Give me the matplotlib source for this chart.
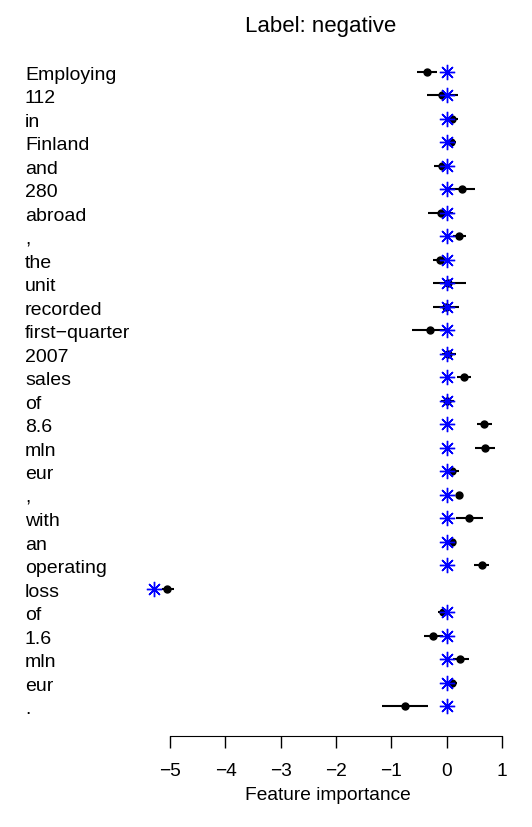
import matplotlib
matplotlib.use("Agg")
import matplotlib.pyplot as plt
import matplotlib.transforms as mtransforms
import numpy as np

plt.rcParams['font.family'] = ['Liberation Sans', 'DejaVu Sans']

tokens = ["Employing", "112", "in", "Finland", "and", "280", "abroad", ",",
          "the", "unit", "recorded", "first\u2212quarter", "2007", "sales", "of",
          "8.6", "mln", "eur", ",", "with", "an", "operating", "loss", "of",
          "1.6", "mln", "eur", "."]

# black points with interval, blue stars
point = [-0.36, -0.08, 0.09, 0.07, -0.08, 0.27, -0.11, 0.22, -0.12, 0.03,
         -0.02, -0.31, 0.02, 0.31, 0.01, 0.68, 0.70, 0.10, 0.23, 0.40,
         0.10, 0.63, -5.05, -0.07, -0.25, 0.24, 0.10, -0.75]
lower = [-0.54, -0.36, 0.00, -0.03, -0.23, 0.03, -0.34, 0.12, -0.24, -0.25,
         -0.25, -0.63, -0.09, 0.18, -0.10, 0.55, 0.52, -0.01, 0.21, 0.16,
         0.01, 0.50, -5.15, -0.16, -0.41, 0.12, 0.01, -1.17]
upper = [-0.18, 0.21, 0.21, 0.16, 0.06, 0.51, 0.12, 0.34, 0.03, 0.34,
         0.22, 0.00, 0.16, 0.44, 0.13, 0.82, 0.87, 0.22, 0.25, 0.65,
         0.17, 0.76, -4.94, 0.05, -0.07, 0.40, 0.19, -0.33]
star = [0.0] * 22 + [-5.29] + [0.0] * 5

W, H = 532, 827
fig = plt.figure(figsize=(W / 100, H / 100), dpi=100)
ax_left, ax_right = 140, 515
ax_top, ax_bottom = 56, 722
ax = fig.add_axes([ax_left / W, 1 - ax_bottom / H,
                   (ax_right - ax_left) / W, (ax_bottom - ax_top) / H])

px0, ppu = 446.7, 55.3
ax.set_xlim((ax_left - px0) / ppu, (ax_right - px0) / ppu)
n = len(tokens)
rows = np.arange(n)
pad = (ax_bottom - ax_top - 23.5 * (n - 1)) / 2 / 23.5
ax.set_ylim(n - 1 + pad, -pad)

ax.hlines(rows, lower, upper, color='black', linewidth=1.5)
ax.plot(point, rows, 'o', color='black', markersize=5)
ax.plot(star, rows, linestyle='none', marker=(8, 2, 0), color='blue',
        markersize=11, markeredgewidth=1.0)

for sp in ['top', 'right', 'left']:
    ax.spines[sp].set_visible(False)
ax.spines['bottom'].set_position(('outward', 10))
ax.spines['bottom'].set_bounds(-5, 1)
ax.set_xticks(np.arange(-5, 2, 1))
ax.tick_params(axis='x', length=8.5, width=1, labelsize=13.8, pad=11)
ax.set_yticks([])
ax.set_xlabel("Feature importance", fontsize=13.8, labelpad=5)

label_tr = mtransforms.blended_transform_factory(fig.transFigure, ax.transData)
for i, t in enumerate(tokens):
    ax.text(25 / W, i + 8 / 23.5, t, transform=label_tr,
            ha='left', va='baseline', fontsize=14)

fig.text(321 / W, 1 - 32 / H, "Label: negative", ha='center', va='baseline', fontsize=16)

fig.savefig("out.png", dpi=100)
